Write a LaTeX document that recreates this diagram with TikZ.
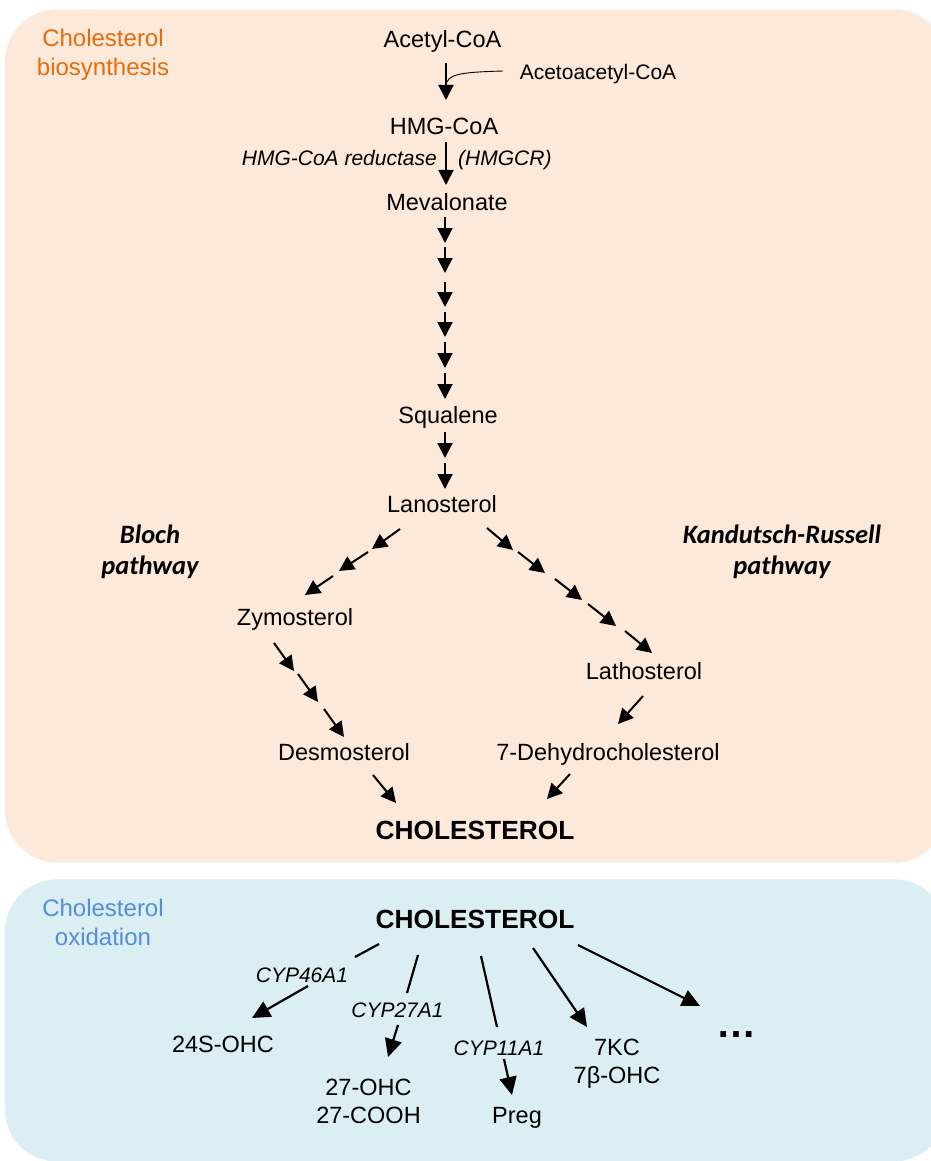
\documentclass[tikz,border=0pt]{standalone}
\usepackage{fontspec}
\setmainfont{Liberation Sans}
\newfontfamily\calibri{Carlito}
\usetikzlibrary{arrows.meta}
\definecolor{peach}{HTML}{FDE9D9}
\definecolor{paleblue}{HTML}{DAEEF3}
\definecolor{orangetxt}{HTML}{E46C0A}
\definecolor{bluetxt}{HTML}{558ED5}
\begin{document}
\begin{tikzpicture}[x=1pt,y=-1pt,
  lbl/.style={inner sep=0pt, anchor=base, font=\fontsize{23.5}{27}\selectfont},
  twolbl/.style={inner sep=0pt, anchor=base, align=center, font=\fontsize{23.5}{27.5}\selectfont},
  small/.style={inner sep=0pt, anchor=base, font=\fontsize{21}{25}\selectfont},
  enz/.style={inner sep=0pt, anchor=base, font=\fontsize{21}{25}\selectfont\itshape},
  cholbold/.style={inner sep=0pt, anchor=base, font=\fontsize{26.3}{30}\selectfont\bfseries},
  boxtitle/.style={inner sep=0pt, anchor=base, align=center, font=\fontsize{24}{29}\selectfont},
  pathlbl/.style={inner sep=0pt, anchor=base, align=center, font=\calibri\fontsize{26.5}{31}\selectfont\bfseries\itshape},
  arr/.style={line width=2pt, -{Triangle[length=15pt,width=15pt]}},
  barr/.style={line width=2.2pt, -{Triangle[length=18pt,width=17pt]}},
  bline/.style={line width=2.2pt},
  thin/.style={line width=0.9pt}
]
\useasboundingbox (0,0) rectangle (930,1161);
% panels
\fill[peach, rounded corners=52pt] (5,9.3) rectangle (946,862.7);
\fill[paleblue, rounded corners=52pt] (5,879.3) rectangle (946,1161.5);

% ---------- biosynthesis ----------
\node[boxtitle, text=orangetxt] (biotitle) at (103,75.6) {Cholesterol\\biosynthesis};
\node[lbl] (acetyl) at (442.5,47.4) {Acetyl-CoA};
\node[small] (acetoacetyl) at (598,79.3) {Acetoacetyl-CoA};
\node[lbl] (hmgcoa) at (444,135) {HMG-CoA};
\node[enz, anchor=base east] (hmgcr1) at (437,166) {HMG-CoA reductase};
\node[enz, anchor=base west] (hmgcr2) at (458,166) {(HMGCR)};
\node[lbl] (mevalonate) at (447,210) {Mevalonate};
\node[lbl] (squalene) at (448,423) {Squalene};
\node[lbl] (lanosterol) at (442,512) {Lanosterol};
\node[pathlbl] (bloch) at (150,574) {Bloch\\pathway};
\node[pathlbl] (kr) at (782,574) {Kandutsch-Russell\\pathway};
\node[lbl] (zymosterol) at (295,625) {Zymosterol};
\node[lbl] (desmosterol) at (344,760) {Desmosterol};
\node[lbl] (lathosterol) at (644,679) {Lathosterol};
\node[lbl] (dhc) at (608,760) {7-Dehydrocholesterol};
\node[cholbold] (chol1) at (475,839) {CHOLESTEROL};

% arrows of the biosynthesis pathway
\foreach \n/\xa/\ya/\xb/\yb in {
  a1/446/63/446/100, a2/446/142/446/185,
  m1/445/217/445/243, m2/445/247/445/273, m3/445/282/445/307,
  m4/445/312/445/337, m5/445/342/445/368, m6/445/373/445/399,
  s1/445/432/445/458, s2/445/463/445/489,
  b1/400/529/372/549, b2/368/552/339/571, b3/333/576/305/595,
  z1/274/643/294/671, z2/298/674/318/702, z3/324/709/344/737,
  d1/373/775/396/803,
  k1/487/528/513/550, k2/518/552/545/573, k3/555/579/582/600,
  k4/588/604/616/626, k5/625/631/652/653,
  l1/643/696/618/724, h1/570/774/547/799}{
  \coordinate (\n s) at (\xa,\ya);
  \coordinate (\n e) at (\xb,\yb);
  \draw[arr] (\n s) -- (\n e);
}
\coordinate (aceto) at (503,71);
\coordinate (join) at (447,82);
\draw[thin] (aceto) .. controls (470,72) and (450,73) .. (join);

% ---------- oxidation ----------
\node[boxtitle, text=bluetxt] (oxtitle) at (103,945) {Cholesterol\\oxidation};
\node[cholbold] (chol2) at (475,928) {CHOLESTEROL};
\node[enz] (cyp46) at (302,982) {CYP46A1};
\node[lbl] (s24) at (223,1052) {24S-OHC};
\node[enz] (cyp27) at (397.5,1017) {CYP27A1};
\node[twolbl] (oh27) at (368.5,1123) {27-OHC\\27-COOH};
\node[enz] (cyp11) at (499,1055) {CYP11A1};
\node[lbl] (preg) at (517,1123) {Preg};
\node[twolbl] (kc7) at (617,1083) {7KC\\7β-OHC};
\node[inner sep=0pt, anchor=base, font=\fontsize{40}{40}\selectfont\bfseries] (dots) at (736.5,1037) {…};

\coordinate (c46a) at (379,944); \coordinate (c46b) at (355,957);
\coordinate (c46c) at (308,986); \coordinate (c46d) at (252,1018);
\draw[bline] (c46a) -- (c46b);
\draw[barr] (c46c) -- (c46d);
\coordinate (c27a) at (418,955); \coordinate (c27b) at (407,993);
\coordinate (c27c) at (398,1025); \coordinate (c27d) at (388,1057);
\draw[bline] (c27a) -- (c27b);
\draw[barr] (c27c) -- (c27d);
\coordinate (c11a) at (481,956); \coordinate (c11b) at (497,1027);
\coordinate (c11c) at (504,1059); \coordinate (c11d) at (512,1095);
\draw[bline] (c11a) -- (c11b);
\draw[barr] (c11c) -- (c11d);
\coordinate (kca) at (533,948); \coordinate (kcb) at (587,1027);
\draw[barr] (kca) -- (kcb);
\coordinate (dta) at (578,945); \coordinate (dtb) at (700,1006);
\draw[barr] (dta) -- (dtb);
\end{tikzpicture}
\end{document}
